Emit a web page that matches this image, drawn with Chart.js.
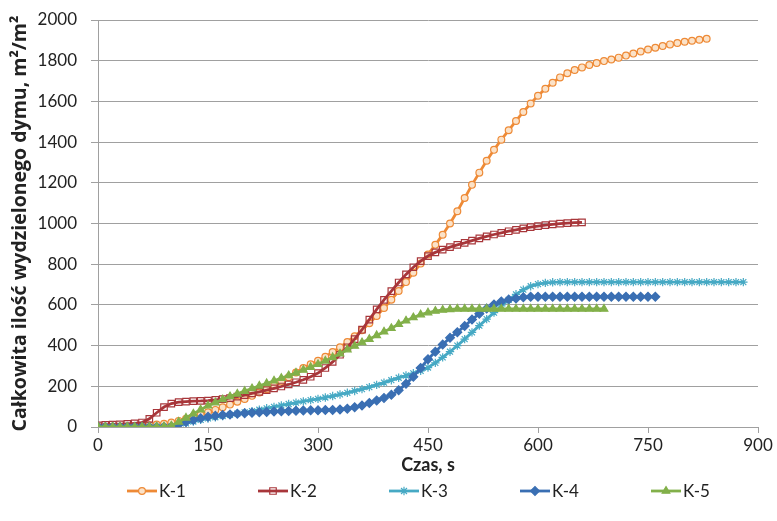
<!DOCTYPE html>
<html>
<head>
<meta charset="utf-8">
<script src="https://cdn.jsdelivr.net/npm/chart.js@4.4.1/dist/chart.umd.min.js"></script>
<style>
  html, body { margin: 0; padding: 0; background: #fff; }
</style>
</head>
<body>
<canvas id="smokeChart" width="777" height="521"></canvas>
<script>
// time axis, s (one reading every 10 s)
const czas = [0, 10, 20, 30, 40, 50, 60, 70, 80, 90,
  100, 110, 120, 130, 140, 150, 160, 170, 180, 190,
  200, 210, 220, 230, 240, 250, 260, 270, 280, 290,
  300, 310, 320, 330, 340, 350, 360, 370, 380, 390,
  400, 410, 420, 430, 440, 450, 460, 470, 480, 490,
  500, 510, 520, 530, 540, 550, 560, 570, 580, 590,
  600, 610, 620, 630, 640, 650, 660, 670, 680, 690,
  700, 710, 720, 730, 740, 750, 760, 770, 780, 790,
  800, 810, 820, 830, 840, 850, 860, 870, 880];

// total smoke released, m2/m2
const k1 = [0, 1, 2, 3, 4, 5, 7, 9, 12, 16,
  22, 30, 40, 50, 60, 72, 84, 97, 110, 124,
  138, 153, 169, 186, 204, 224, 245, 268, 290, 308,
  325, 345, 368, 392, 418, 446, 476, 510, 546, 585,
  625, 668, 712, 758, 803, 848, 895, 945, 1000, 1060,
  1125, 1190, 1250, 1308, 1362, 1412, 1458, 1504, 1548, 1590,
  1628, 1662, 1692, 1718, 1738, 1754, 1767, 1779, 1789, 1798,
  1806, 1815, 1825, 1835, 1845, 1855, 1864, 1872, 1880, 1887,
  1893, 1898, 1903, 1908];
const k2 = [8, 10, 12, 13, 15, 18, 22, 40, 70, 98,
  115, 122, 125, 127, 128, 130, 133, 137, 142, 149,
  157, 165, 173, 181, 190, 199, 209, 220, 232, 247,
  265, 290, 320, 355, 392, 432, 478, 528, 578, 625,
  668, 710, 750, 785, 815, 840, 858, 872, 884, 895,
  905, 916, 927, 937, 946, 954, 962, 969, 976, 982,
  987, 992, 996, 999, 1002, 1004, 1006];
const k3 = [0, 0, 0, 0, 0, 0, 0, 0, 0, 0,
  2, 8, 18, 27, 35, 42, 48, 54, 60, 66,
  72, 78, 85, 92, 99, 106, 113, 120, 126, 132,
  138, 145, 152, 160, 168, 177, 186, 196, 207, 218,
  230, 242, 253, 264, 276, 292, 315, 342, 370, 400,
  432, 465, 498, 530, 562, 595, 625, 652, 675, 692,
  702, 708, 711, 712, 712, 712, 712, 712, 712, 712,
  712, 712, 712, 712, 712, 712, 712, 712, 712, 712,
  712, 712, 712, 712, 712, 712, 712, 712, 712];
const k4 = [0, 0, 0, 0, 0, 0, 0, 0, 0, 0,
  2, 12, 25, 35, 43, 50, 55, 59, 62, 65,
  68, 70, 72, 74, 76, 78, 79, 80, 81, 82,
  82, 83, 84, 86, 90, 97, 106, 118, 130, 143,
  158, 180, 212, 247, 290, 333, 370, 405, 438, 466,
  496, 528, 557, 582, 602, 617, 626, 632, 637, 640,
  640, 640, 640, 640, 640, 640, 640, 640, 640, 640,
  640, 640, 640, 640, 640, 640, 640];
const k5 = [0, 0, 0, 0, 0, 0, 0, 0, 1, 2,
  6, 25, 45, 65, 85, 105, 120, 135, 150, 163,
  176, 189, 202, 214, 227, 240, 253, 266, 280, 294,
  308, 325, 342, 360, 380, 398, 415, 432, 450, 468,
  485, 505, 522, 538, 552, 562, 570, 575, 578, 580,
  580, 580, 580, 580, 580, 580, 580, 580, 580, 580,
  580, 580, 580, 580, 580, 580, 580, 580, 580, 580];

const seriesNames = ['K-1', 'K-2', 'K-3', 'K-4', 'K-5'];
const xTicks = [0, 150, 300, 450, 600, 750, 900];
const yTicks = [0, 200, 400, 600, 800, 1000, 1200, 1400, 1600, 1800, 2000];

const gridGray = '#a0a0a0';
const textColor = '#222222';
const fontFamily = 'Lato, "Open Sans", sans-serif';
const titleFamily = '"Open Sans", Lato, sans-serif';

const toPoints = vals => vals.map((v, i) => ({ x: czas[i], y: v }));

// styles per series, in the same order as seriesNames
const styles = [
  { color: '#ee8a36', fill: '#fbe2c8', point: 'circle', radius: 3.4 },
  { color: '#a8363a', fill: 'rgba(255,255,255,0)', point: 'rect', radius: 4.6 },
  { color: '#46a9c4', fill: '#46a9c4', point: 'star', radius: 4.2 },
  { color: '#3a6fb3', fill: '#3a6fb3', point: 'rectRot', radius: 4.4 },
  { color: '#82b04a', fill: '#82b04a', point: 'triangle', radius: 4.4 }
];
const series = [k1, k2, k3, k4, k5];

const datasets = series.map((vals, i) => ({
  label: seriesNames[i],
  data: toPoints(vals),
  borderColor: styles[i].color,
  backgroundColor: styles[i].fill,
  borderWidth: 2.8,
  pointStyle: styles[i].point,
  pointRadius: styles[i].radius,
  pointBorderWidth: 1.2,
  pointBorderColor: styles[i].color,
  pointBackgroundColor: styles[i].fill,
  tension: 0,
  order: series.length - i   // later series drawn on top, like Excel
}));

// legend drawn below the axis title: line with marker and the series name
const bottomLegend = {
  id: 'bottomLegend',
  afterDraw(chart) {
    const ctx = chart.ctx;
    const startX = 127, step = 131, y = 491;
    ctx.save();
    ctx.font = '17px ' + fontFamily;
    ctx.textBaseline = 'middle';
    ctx.textAlign = 'left';
    seriesNames.forEach((name, i) => {
      const st = styles[i];
      const x0 = startX + i * step;
      ctx.strokeStyle = st.color;
      ctx.lineWidth = 2.8;
      ctx.beginPath();
      ctx.moveTo(x0, y);
      ctx.lineTo(x0 + 30, y);
      ctx.stroke();
      ctx.fillStyle = st.fill;
      ctx.lineWidth = 1.2;
      Chart.helpers.drawPoint(ctx, { pointStyle: st.point, rotation: 0, radius: st.radius, borderWidth: 1.2 }, x0 + 15, y);
      ctx.fillStyle = textColor;
      ctx.fillText(name, x0 + 32, y + 1);
    });
    ctx.restore();
  }
};

new Chart(document.getElementById('smokeChart'), {
  type: 'line',
  data: { datasets: datasets },
  options: {
    responsive: false,
    animation: false,
    layout: { padding: { top: 20, right: 19, bottom: 42, left: 0 } },
    plugins: {
      legend: { display: false },
      tooltip: { enabled: false }
    },
    scales: {
      x: {
        type: 'linear',
        min: 0,
        max: 900,
        afterBuildTicks: scale => { scale.ticks = xTicks.map(v => ({ value: v })); },
        afterFit: scale => { scale.height = 52; },
        grid: { drawOnChartArea: false, color: gridGray, tickLength: 6 },
        border: { color: gridGray },
        ticks: { color: textColor, font: { family: fontFamily, size: 17 }, padding: 2, maxRotation: 0, callback: v => String(v) },
        title: {
          display: true,
          text: 'Czas, s',
          color: textColor,
          font: { family: fontFamily, size: 18, weight: 'bold' },
          padding: { top: 0, bottom: 3 }
        }
      },
      y: {
        min: 0,
        max: 2000,
        afterBuildTicks: scale => { scale.ticks = yTicks.map(v => ({ value: v })); },
        afterFit: scale => {
          scale.width = 98;
          // keep the plot top at the layout padding
          scale.paddingTop = 0;
          scale.paddingBottom = 0;
        },
        grid: { color: gridGray, tickLength: 7 },
        border: { color: gridGray },
        ticks: { color: textColor, font: { family: fontFamily, size: 17 }, padding: 14, callback: v => String(v) },
        title: {
          display: true,
          text: 'Całkowita ilość wydzielonego dymu, m²/m²',
          color: textColor,
          font: { family: titleFamily, size: 19.5, weight: 'bold' },
          padding: { top: 9, bottom: 0 }
        }
      }
    }
  },
  plugins: [bottomLegend]
});
</script>
</body>
</html>
